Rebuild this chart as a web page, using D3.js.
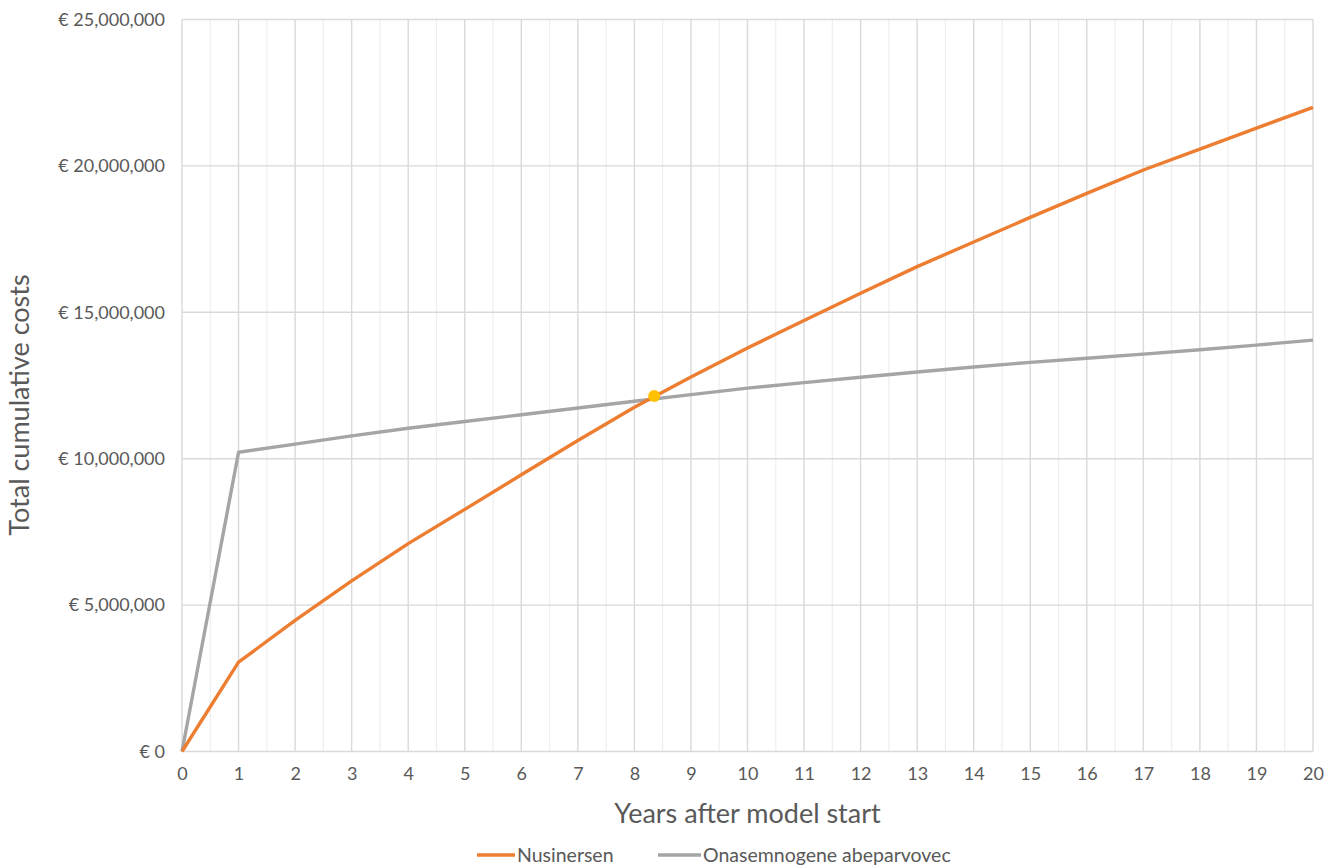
<!DOCTYPE html>
<html>
<head>
<meta charset="utf-8">
<script src="https://cdn.jsdelivr.net/npm/d3@7"></script>
<style>
  html, body { margin: 0; padding: 0; background: #fff; }
  svg text { font-family: Lato, "Open Sans", sans-serif; fill: #595959; }
</style>
</head>
<body>
<svg id="chart" width="1338" height="868"></svg>
<script>
// Years after model start
const years = [0,1,2,3,4,5,6,7,8,9,10,11,12,13,14,15,16,17,18,19,20];
// Total cumulative costs (EUR)
const nusinersen = [0, 3050000, 4480000, 5830000, 7100000, 8270000, 9450000, 10620000, 11760000, 12790000,
  13780000, 14720000, 15650000, 16560000, 17400000, 18240000, 19060000, 19860000, 20570000, 21290000, 22000000];
const onasemnogene = [0, 10220000, 10500000, 10780000, 11040000, 11270000, 11500000, 11730000, 11960000, 12190000,
  12410000, 12600000, 12780000, 12960000, 13130000, 13290000, 13430000, 13570000, 13720000, 13880000, 14050000];
// Break-even point between the two treatments
const breakEven = { year: 8.35, cost: 12140000 };
const yTicks = [0, 5000000, 10000000, 15000000, 20000000, 25000000];
const seriesNames = ["Nusinersen", "Onasemnogene abeparvovec"];
const seriesColors = ["#ED7D31", "#A5A5A5"];

const svg = d3.select("#chart");
const plot = { left: 182, right: 1313, top: 19.5, bottom: 751.5 };
const fontStack = "Lato, 'Open Sans', sans-serif";

const x = d3.scaleLinear().domain([0, 20]).range([plot.left, plot.right]);
const y = d3.scaleLinear().domain([0, 25000000]).range([plot.bottom, plot.top]);

// Minor vertical gridlines at half years
const halfYears = d3.range(0.5, 20, 1);
svg.append("g").selectAll("line").data(halfYears).join("line")
  .attr("x1", d => x(d)).attr("x2", d => x(d))
  .attr("y1", plot.top).attr("y2", plot.bottom)
  .attr("stroke", "#eeeeee").attr("stroke-width", 1.2);

// Major vertical gridlines at whole years
svg.append("g").selectAll("line").data(years).join("line")
  .attr("x1", d => x(d)).attr("x2", d => x(d))
  .attr("y1", plot.top).attr("y2", plot.bottom)
  .attr("stroke", "#d9d9d9").attr("stroke-width", 1.4);

// Horizontal gridlines
svg.append("g").selectAll("line").data(yTicks).join("line")
  .attr("x1", plot.left).attr("x2", plot.right)
  .attr("y1", d => y(d)).attr("y2", d => y(d))
  .attr("stroke", "#d9d9d9").attr("stroke-width", 1.4);

// Y axis labels
const fmt = d3.format(",");
const yAxis = d3.axisLeft(y).tickValues(yTicks).tickSize(0).tickPadding(17)
  .tickFormat(d => "€ " + fmt(d));
svg.append("g").attr("transform", `translate(${plot.left},0)`).call(yAxis)
  .call(g => g.select(".domain").remove())
  .call(g => g.selectAll("text").attr("font-size", 18).attr("fill", "#595959")
    .style("font-family", fontStack));

// X axis labels
const xAxis = d3.axisBottom(x).tickValues(years).tickSize(0).tickPadding(16)
  .tickFormat(d3.format("d"));
svg.append("g").attr("transform", `translate(0,${plot.bottom})`).call(xAxis)
  .call(g => g.select(".domain").remove())
  .call(g => g.selectAll("text").attr("font-size", 18).attr("fill", "#595959")
    .style("font-family", fontStack));

// Axis titles
svg.append("text").attr("x", x(10)).attr("y", 823)
  .attr("text-anchor", "middle").attr("font-size", 27).text("Years after model start");
svg.append("text")
  .attr("transform", `translate(29,405) rotate(-90)`)
  .attr("text-anchor", "middle").attr("font-size", 27).text("Total cumulative costs");

// Series lines: gray first, orange on top
const line = d3.line().x((d, i) => x(years[i])).y(d => y(d));
[onasemnogene, nusinersen].forEach((vals, k) => {
  svg.append("path").datum(vals)
    .attr("d", line)
    .attr("fill", "none")
    .attr("stroke", seriesColors[1 - k])
    .attr("stroke-width", 3.4)
    .attr("stroke-linejoin", "round");
});

// Break-even marker
svg.append("circle")
  .attr("cx", x(breakEven.year)).attr("cy", y(breakEven.cost))
  .attr("r", 6).attr("fill", "#FFC000");

// Legend
const legendPos = [{ x0: 477, x1: 515 }, { x0: 658, x1: 701 }];
seriesNames.forEach((name, k) => {
  const g = svg.append("g");
  g.append("line").attr("x1", legendPos[k].x0).attr("x2", legendPos[k].x1)
    .attr("y1", 855).attr("y2", 855)
    .attr("stroke", seriesColors[k]).attr("stroke-width", 3.4);
  g.append("text").attr("x", legendPos[k].x1 + 2).attr("y", 862)
    .attr("font-size", 19.5).text(name);
});
</script>
</body>
</html>
